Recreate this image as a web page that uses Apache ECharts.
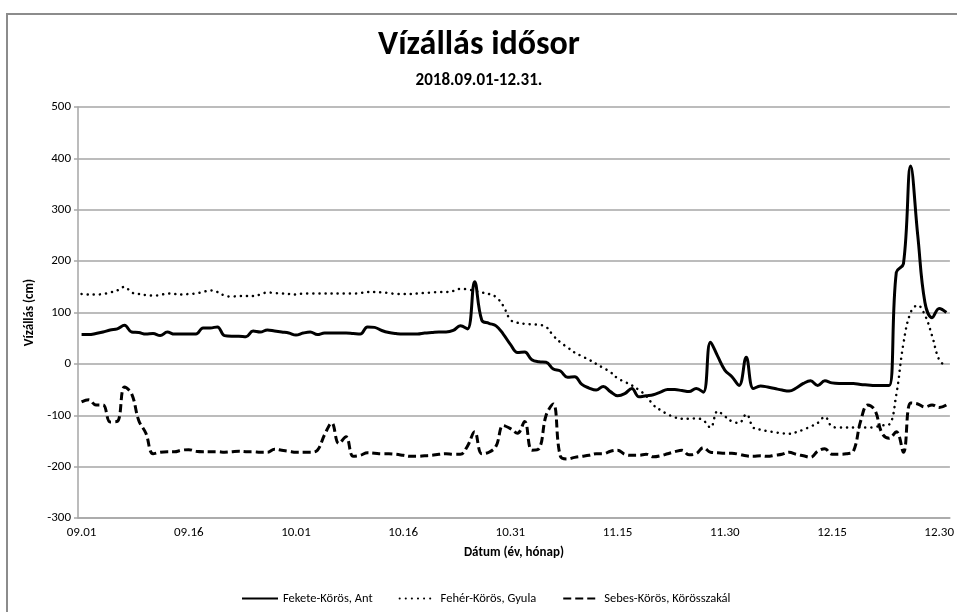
<!DOCTYPE html>
<html>
<head>
<meta charset="utf-8">
<title>Vízállás idősor</title>
<script src="https://cdn.jsdelivr.net/npm/echarts@6/dist/echarts.min.js"></script>
<style>
  html, body { margin: 0; padding: 0; background: #fff; }
  #main { width: 957px; height: 612px; }
</style>
</head>
<body>
<div id="main"></div>
<script>
// napi adatok 2018.09.01 - 2018.12.31 (122 nap)
var startDate = new Date(2018, 8, 1);
var dayCount = 122;
var dates = [];
for (var d = 0; d < dayCount; d++) {
  var dt = new Date(startDate.getTime() + d * 86400000);
  var mm = ('0' + (dt.getMonth() + 1)).slice(-2);
  var dd = ('0' + dt.getDate()).slice(-2);
  dates.push(mm + '.' + dd);
}

var seriesNames = ['Fekete-Körös, Ant', 'Fehér-Körös, Gyula', 'Sebes-Körös, Körösszakál'];

// Fekete-Körös, Ant (cm)
var feketeAnt = [
  57, 57, 59, 62, 66, 68, 75, 62, 61, 58,
  59, 55, 62, 58, 58, 58, 58, 70, 70, 72,
  55, 54, 54, 53, 64, 62, 66, 64, 62, 60,
  56, 60, 62, 57, 60, 60, 60, 60, 59, 58,
  72, 71, 65, 61, 59, 58, 58, 58, 60, 61,
  62, 62, 65, 74, 68, 160, 85, 79, 74, 58,
  38, 22, 23, 8, 4, 3, -10, -14, -26, -25,
  -40, -47, -51, -44, -54, -62, -58, -48, -64, -62,
  -60, -55, -50, -50, -52, -54, -48, -55, 42, 15,
  -12, -25, -42, 13, -48, -43, -45, -48, -51, -53,
  -47, -38, -33, -42, -33, -37, -38, -38, -38, -40,
  -41, -42, -42, -42, 178, 195, 385, 250, 120, 90,
  108, 100
];

// Fehér-Körös, Gyula (cm)
var feherGyula = [
  136, 135, 135, 136, 139, 143, 150, 139, 136, 134,
  133, 134, 137, 136, 135, 136, 137, 140, 143, 140,
  133, 131, 132, 132, 132, 135, 139, 138, 137, 136,
  135, 137, 137, 137, 137, 137, 137, 137, 137, 138,
  140, 140, 139, 138, 136, 136, 136, 137, 138, 139,
  140, 140, 142, 146, 145, 142, 139, 136, 130, 113,
  86, 80, 78, 77, 76, 72, 55, 42, 32, 22,
  15, 8, 0, -8, -16, -28, -35, -42, -51, -62,
  -80, -90, -98, -104, -107, -107, -106, -110, -124, -92,
  -102, -112, -115, -98, -124, -128, -131, -133, -135, -136,
  -133, -128, -122, -115, -103, -122, -124, -124, -124, -124,
  -124, -123, -120, -118, -60, 40, 100, 114, 95, 55,
  8, -5
];

// Sebes-Körös, Körösszakál (cm)
var sebesKorosszakal = [
  -74, -70, -80, -80, -113, -112, -45, -58, -110, -135,
  -175, -172, -171, -171, -168, -167, -170, -171, -171, -171,
  -172, -171, -170, -171, -171, -172, -172, -166, -168, -170,
  -172, -172, -172, -168, -138, -115, -155, -142, -180, -178,
  -173, -174, -175, -175, -176, -178, -180, -180, -179, -178,
  -176, -175, -176, -176, -160, -132, -175, -172, -160, -120,
  -126, -135, -112, -168, -165, -100, -78, -180, -185, -182,
  -180, -178, -175, -175, -170, -168, -176, -178, -178, -176,
  -181, -179, -175, -171, -168, -177, -175, -163, -172, -173,
  -174, -174, -176, -179, -180, -179, -180, -178, -176, -172,
  -176, -179, -182, -170, -165, -176, -176, -175, -170, -112,
  -80, -90, -135, -145, -132, -172, -76, -78, -84, -80,
  -85, -80
];

var yTicks = { min: -300, max: 500, interval: 100 };

var font = 'Carlito, "Liberation Sans Narrow", Lato, sans-serif';
var gridColor = '#a6a6a6';

var myChart = echarts.init(document.getElementById('main'));
myChart.setOption({
  animation: false,
  backgroundColor: '#fff',
  textStyle: { fontFamily: font, color: '#000' },
  graphic: [{
    type: 'rect',
    shape: { x: 7, y: 14, width: 960, height: 610 },
    style: { fill: 'none', stroke: '#8c8c8c', lineWidth: 2 },
    silent: true
  }],
  title: {
    text: 'Vízállás idősor',
    subtext: '2018.09.01-12.31.',
    left: 474,
    textAlign: 'center',
    top: 23,
    itemGap: 10,
    textStyle: { fontFamily: font, fontSize: 34, fontWeight: 'bold', color: '#000' },
    subtextStyle: { fontFamily: font, fontSize: 17, fontWeight: 'bold', color: '#000' }
  },
  legend: {
    left: 236,
    top: 587,
    itemWidth: 36,
    itemHeight: 10,
    itemGap: 26,
    itemStyle: { opacity: 0 },
    textStyle: { fontFamily: font, fontSize: 12.5, color: '#000' },
    data: seriesNames
  },
  grid: { left: 78, right: 5, top: 107, bottom: 94 },
  xAxis: {
    type: 'category',
    data: dates,
    boundaryGap: true,
    name: 'Dátum (év, hónap)',
    nameLocation: 'middle',
    nameGap: 28,
    nameTextStyle: { fontFamily: font, fontSize: 13, fontWeight: 'bold', color: '#000' },
    axisLine: { onZero: false, lineStyle: { color: gridColor, width: 1.5 } },
    axisTick: { show: false },
    axisLabel: { interval: 14, fontSize: 13, color: '#000', margin: 8 },
    splitLine: { show: false }
  },
  yAxis: {
    type: 'value',
    min: yTicks.min,
    max: yTicks.max,
    interval: yTicks.interval,
    name: 'Vízállás (cm)',
    nameLocation: 'middle',
    nameGap: 42,
    nameTextStyle: { fontFamily: font, fontSize: 13, fontWeight: 'bold', color: '#000' },
    axisLine: { show: true, lineStyle: { color: gridColor, width: 1.5 } },
    axisTick: { show: true, length: 4, lineStyle: { color: gridColor, width: 1.5 } },
    axisLabel: { fontSize: 13, color: '#000', margin: 7 },
    splitLine: { show: true, lineStyle: { color: gridColor, width: 1.5 } }
  },
  series: [
    {
      name: seriesNames[0],
      type: 'line',
      data: feketeAnt,
      smooth: 0.4,
      symbol: 'none',
      color: '#000',
      lineStyle: { color: '#000', width: 3, type: 'solid' }
    },
    {
      name: seriesNames[1],
      type: 'line',
      data: feherGyula,
      smooth: 0.4,
      symbol: 'none',
      color: '#000',
      lineStyle: { color: '#000', width: 2.5, type: [0.1, 6], cap: 'round' }
    },
    {
      name: seriesNames[2],
      type: 'line',
      data: sebesKorosszakal,
      smooth: 0.4,
      symbol: 'none',
      color: '#000',
      lineStyle: { color: '#000', width: 3, type: [8, 4] }
    }
  ]
});
</script>
</body>
</html>
